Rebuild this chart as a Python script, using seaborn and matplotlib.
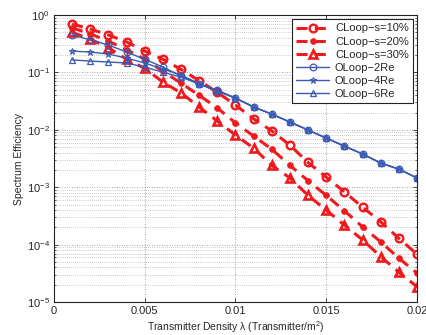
import numpy as np
import pandas as pd
import matplotlib
matplotlib.use("Agg")
import matplotlib.pyplot as plt
import seaborn as sns

density = [0.001, 0.002, 0.003, 0.004, 0.005, 0.006, 0.007, 0.008, 0.009, 0.010,
           0.011, 0.012, 0.013, 0.014, 0.015, 0.016, 0.017, 0.018, 0.019, 0.020]

cloop_10 = [0.70, 0.57, 0.45, 0.34, 0.236, 0.17, 0.113, 0.072, 0.045, 0.027,
            0.0155, 0.0096, 0.0054, 0.0027, 0.0015, 0.00083, 0.00045, 0.00025, 0.000129, 0.000068]
cloop_20 = [0.60, 0.47, 0.35, 0.25, 0.17, 0.105, 0.065, 0.040, 0.024, 0.0132,
            0.0078, 0.0046, 0.0024, 0.0013, 0.00072, 0.00039, 0.000204, 0.000112, 0.000058, 0.000032]
cloop_30 = [0.50, 0.38, 0.27, 0.17, 0.118, 0.068, 0.044, 0.025, 0.0142, 0.0081,
            0.0048, 0.0024, 0.00145, 0.00072, 0.00040, 0.00022, 0.000121, 0.000062, 0.000033, 0.0000185]
oloop_2 = [0.45, 0.37, 0.30, 0.227, 0.17, 0.124, 0.087, 0.062, 0.049, 0.0358,
           0.0250, 0.0188, 0.0137, 0.0099, 0.0072, 0.0052, 0.0038, 0.00264, 0.00207, 0.00145]
oloop_4 = [0.236, 0.227, 0.209, 0.178, 0.146, 0.115, 0.090, 0.064, 0.048, 0.0358,
           0.0250, 0.0188, 0.0137, 0.0099, 0.0072, 0.0052, 0.0038, 0.00264, 0.00207, 0.00145]
oloop_6 = [0.165, 0.158, 0.152, 0.146, 0.124, 0.101, 0.083, 0.063, 0.047, 0.0358,
           0.0250, 0.0188, 0.0137, 0.0099, 0.0072, 0.0052, 0.0038, 0.00264, 0.00207, 0.00145]

labels = ["CLoop\u2212s=10%", "CLoop\u2212s=20%", "CLoop\u2212s=30%",
          "OLoop\u22122Re", "OLoop\u22124Re", "OLoop\u22126Re"]
x_ticks = [0, 0.005, 0.01, 0.015, 0.02]
x_tick_labels = ["0", "0.005", "0.01", "0.015", "0.02"]

sns.set_style("white")
plt.rcParams['font.family'] = ['Liberation Sans', 'DejaVu Sans']
plt.rcParams['mathtext.fontset'] = 'custom'
plt.rcParams['mathtext.rm'] = 'Liberation Sans'
plt.rcParams['mathtext.it'] = 'Liberation Sans:italic'

fig = plt.figure(figsize=(4.27, 3.35), dpi=100)
ax = fig.add_axes([0.1265, 0.0985, 0.85, 0.8565])

red = "#f0191e"
blue = "#3a5ab4"

series = [
    (cloop_10, dict(color=red, lw=2.2, dashes=(3.6, 2.4), marker='o', ms=5.5, mfc='none', mew=1.7, mec=red)),
    (cloop_20, dict(color=red, lw=2.2, dashes=(3.6, 2.4), marker='o', ms=4.2, mfc=red, mew=0.5, mec=red)),
    (cloop_30, dict(color=red, lw=2.2, dashes=(3.6, 2.4), marker='^', ms=6, mfc='none', mew=1.9, mec=red)),
    (oloop_2, dict(color=blue, lw=1.0, marker='o', ms=4.8, mfc='none', mew=0.9, mec=blue)),
    (oloop_4, dict(color=blue, lw=1.0, marker='*', ms=4.8, mfc='none', mew=0.8, mec=blue)),
    (oloop_6, dict(color=blue, lw=1.0, marker='^', ms=4.8, mfc='none', mew=0.9, mec=blue)),
]

for (vals, style), lab in zip(series, labels):
    df = pd.DataFrame({"x": density, "y": vals})
    sns.lineplot(data=df, x="x", y="y", ax=ax, label=lab, **style)

ax.set_yscale('log')
ax.set_xlim(0, 0.02)
ax.set_ylim(1e-5, 1)
ax.set_xticks(x_ticks)
ax.set_xticklabels(x_tick_labels)
ax.set_yticks([1e-5, 1e-4, 1e-3, 1e-2, 1e-1, 1])
ax.set_yticklabels([r"$10^{-5}$", r"$10^{-4}$", r"$10^{-3}$", r"$10^{-2}$", r"$10^{-1}$", r"$10^{0}$"])
ax.tick_params(axis='both', which='major', labelsize=8, direction='in', length=3, width=0.6,
               top=True, right=True, bottom=True, left=True, pad=3)
ax.tick_params(axis='y', which='minor', direction='in', length=1.5, width=0.5, left=True, right=True)

ax.grid(True, which='major', linestyle=(0, (1, 2)), color='#888888', linewidth=0.6)
ax.grid(True, which='minor', axis='y', linestyle=(0, (1, 2)), color='#999999', linewidth=0.5)
ax.set_axisbelow(True)
for s in ax.spines.values():
    s.set_color('#222222')
    s.set_linewidth(0.8)

ax.set_xlabel("Transmitter Density \u03bb (Transmitter/m$^2$)", fontsize=7.5, labelpad=2)
ax.set_ylabel("Spectrum Efficiency", fontsize=7.5, labelpad=2)

leg = ax.legend(loc='upper right', fontsize=8, frameon=True, fancybox=False,
                edgecolor='#222222', framealpha=1, borderaxespad=0.35,
                handlelength=3.0, labelspacing=0.28, borderpad=0.4, handletextpad=0.5)
leg.get_frame().set_linewidth(0.8)

fig.savefig("out.png", dpi=100)
